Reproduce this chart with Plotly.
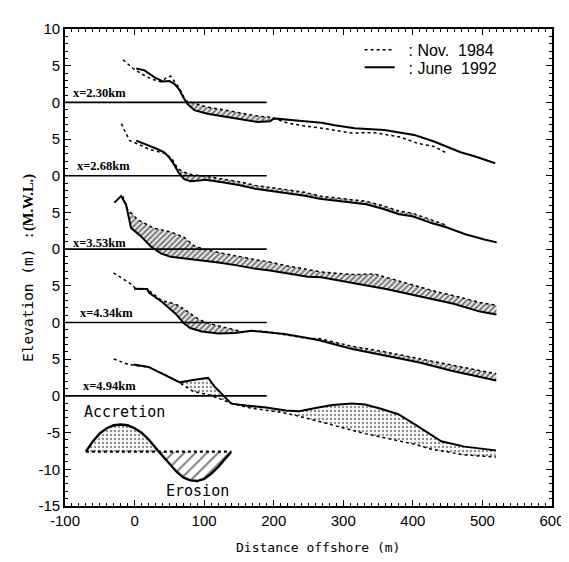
import plotly.graph_objects as go

# ---------------- data (distance offshore m, elevation m relative to M.W.L.) -------------
labels = ["x=2.30km", "x=2.68km", "x=3.53km", "x=4.34km", "x=4.94km"]
offsets = [40, 30, 20, 10, 0]

# x = 2.30 km
p1_x84 = [-16.5, -2.3, 9.1, 23.4, 37.7, 44.8, 51.9, 57.7, 64.8, 73.3, 104.7, 128.5, 152.2, 176.0, 195.0,
          218.8, 240.2, 268.8, 311.6, 344.8, 382.9, 406.7, 430.4, 447.1]
p1_e84 = [5.80, 4.64, 3.93, 3.21, 2.80, 3.29, 3.58, 2.84, 1.87, 0.22, -0.64, -1.03, -1.47, -1.85, -2.03,
          -2.78, -3.16, -3.51, -4.17, -4.13, -4.74, -5.58, -6.01, -6.84]
p1_x92 = [2.4, 14.4, 28.7, 40.5, 50.1, 57.2, 64.4, 70.5, 76.2, 85.8, 104.7, 128.5, 152.2, 176.0, 195.0,
          199.9, 240.2, 268.8, 287.7, 316.3, 359.1, 401.9, 430.4, 468.5, 487.5, 518.4]
p1_e92 = [4.63, 4.37, 3.42, 2.85, 2.90, 2.53, 1.73, 0.59, -0.24, -1.05, -1.54, -1.94, -2.28, -2.66, -2.58,
          -2.18, -2.53, -2.79, -3.12, -3.52, -3.77, -4.43, -5.33, -6.79, -7.31, -8.30]

# x = 2.68 km
p2_x84 = [-19.0, -11.9, -7.2, 7.1, 21.3, 38.0, 45.2, 54.7, 61.9, 69.0, 83.3, 102.2, 126.0, 149.7, 173.5,
          197.4, 221.1, 244.9, 266.3, 294.8, 332.9, 356.6, 380.4, 399.4, 427.9, 447.0]
p2_e84 = [7.10, 5.72, 4.81, 4.23, 3.60, 3.20, 3.02, 2.15, 1.01, 0.54, 0.14, -0.08, -0.42, -0.80, -1.31,
          -1.60, -1.88, -2.26, -2.77, -3.04, -3.48, -4.08, -4.82, -5.10, -6.07, -6.69]
p2_x92 = [2.4, 16.6, 30.9, 42.7, 49.9, 57.0, 64.1, 71.3, 80.8, 92.7, 102.2, 126.0, 149.7, 173.5, 197.4,
          221.1, 244.9, 266.3, 294.8, 332.9, 356.6, 380.4, 399.4, 427.9, 447.0, 475.5, 504.1, 520.6]
p2_e92 = [4.79, 4.29, 3.71, 3.19, 2.49, 1.47, 0.32, -0.47, -0.76, -0.66, -0.55, -0.88, -1.25, -1.76, -2.05,
          -2.34, -2.71, -3.13, -3.42, -3.89, -4.49, -5.23, -5.51, -6.48, -6.99, -7.96, -8.71, -9.08]

# x = 3.53 km
p3_x84 = [-17.1, -10.0, 4.3, 28.1, 51.9, 70.9, 85.2, 99.4, 123.2, 146.9, 170.7, 194.6, 218.3, 268.2,
          315.8, 344.4, 363.3, 401.4, 434.7, 467.9, 496.4, 520.2]
p3_e84 = [7.23, 5.41, 4.03, 2.84, 2.35, 1.63, 0.48, 0.00, -0.50, -0.99, -1.39, -1.76, -2.26, -3.10,
          -3.47, -3.38, -3.88, -4.84, -5.82, -6.55, -7.28, -7.64]
p3_x92 = [-29.0, -19.4, -12.3, -7.6, -5.1, 9.1, 23.4, 37.7, 51.9, 75.6, 99.4, 123.2, 146.9, 170.7, 194.6,
          218.3, 249.2, 268.2, 315.8, 363.3, 410.8, 458.5, 496.4, 520.2]
p3_e92 = [6.34, 7.23, 6.10, 4.05, 2.90, 1.75, 0.36, -0.57, -1.05, -1.32, -1.57, -1.86, -2.21, -2.62, -2.90,
          -3.25, -3.76, -3.84, -4.69, -5.46, -6.45, -7.45, -8.51, -8.91]

# x = 4.34 km
p4_x84 = [-30.3, -17.5, -3.2, 1.5, 18.2, 39.6, 49.1, 63.4, 77.7, 91.9, 106.2, 125.2, 144.1, 158.4, 167.9,
          191.8, 215.5, 246.4, 265.4, 313.0, 360.5, 408.0, 455.7, 484.2, 519.9]
p4_e84 = [6.76, 5.98, 5.14, 4.59, 4.56, 2.94, 2.79, 2.31, 1.38, 0.45, -0.12, -0.59, -1.08, -1.33, -1.11,
          -1.25, -1.65, -2.15, -2.19, -3.25, -4.01, -4.90, -5.88, -6.38, -6.99]
p4_x92 = [-0.8, 18.2, 20.6, 39.6, 58.5, 70.5, 79.9, 96.6, 120.4, 144.1, 167.9, 191.8, 215.5, 246.4, 265.4,
          313.0, 360.5, 408.0, 455.7, 484.2, 519.9]
p4_e92 = [4.59, 4.56, 4.09, 2.80, 1.24, -0.06, -0.75, -1.23, -1.50, -1.41, -1.11, -1.38, -1.56, -2.06, -2.42,
          -3.62, -4.47, -5.41, -6.56, -7.16, -7.90]

# x = 4.94 km
p5_x84 = [-29.9, -10.7, 3.5, 20.1, 32.1, 46.3, 65.3, 84.3, 108.1, 141.3, 165.1, 189.0, 212.7, 236.5,
          260.3, 284.0, 307.8, 331.6, 355.3, 379.1, 402.9, 426.6, 450.4, 474.3, 519.3]
p5_e84 = [5.04, 4.34, 4.10, 3.95, 3.39, 2.77, 1.76, 0.61, 0.11, -1.06, -1.63, -1.93, -2.27, -2.77,
          -3.38, -3.95, -4.53, -5.14, -5.63, -6.11, -6.59, -7.26, -7.70, -8.04, -8.33]
p5_x92 = [-1.3, 20.1, 32.1, 46.3, 65.3, 84.3, 105.7, 115.2, 127.1, 139.0, 160.4, 189.0, 217.5, 236.5,
          260.3, 284.0, 312.5, 331.6, 355.3, 379.1, 402.9, 426.6, 440.9, 474.3, 519.3]
p5_e92 = [4.29, 3.95, 3.39, 2.77, 1.85, 2.18, 2.48, 1.25, 0.09, -1.05, -1.31, -1.57, -1.97, -2.09,
          -1.65, -1.24, -1.04, -1.16, -1.78, -2.49, -3.87, -5.26, -6.19, -6.91, -7.42]

# reference (M.W.L.) line of each profile
ref_x = [-100, 190]
ref_e = [0, 0]

# extent of the shaded change areas
change_ranges = [(64, 196), (44, 448), (-20, 521), (39, 521), (60, 521)]
change_kind = ["erosion", "erosion", "erosion", "erosion", "accretion"]

# schematic key (Accretion / Erosion)
key_x = [-70, -60, -50, -40, -30, -20, -10, 0, 10, 20, 35, 50, 60, 70, 80, 90, 100, 110, 120, 130, 139]
key_y = [-7.6, -6.2, -5.1, -4.4, -4.0, -3.9, -4.0, -4.4, -5.0, -5.9, -7.6, -9.3, -10.3, -11.1, -11.5,
         -11.6, -11.3, -10.6, -9.7, -8.6, -7.6]
key_base = -7.6
key_split = 35

profiles = [
    (p1_x84, p1_e84, p1_x92, p1_e92),
    (p2_x84, p2_e84, p2_x92, p2_e92),
    (p3_x84, p3_e84, p3_x92, p3_e92),
    (p4_x84, p4_e84, p4_x92, p4_e92),
    (p5_x84, p5_e84, p5_x92, p5_e92),
]

HATCH = dict(shape="/", fgcolor="black", bgcolor="white", size=4, solidity=0.6)
DOTS = dict(shape=".", fgcolor="#222222", bgcolor="white", size=4, solidity=0.3)


def band(xa, ya, xb, yb, lo, hi, off):
    ax = [x for x in xa if lo <= x <= hi]
    ay = [y + off for x, y in zip(xa, ya) if lo <= x <= hi]
    bx = [x for x in xb if lo <= x <= hi]
    by = [y + off for x, y in zip(xb, yb) if lo <= x <= hi]
    px = ax + bx[::-1] + ax[:1]
    py = ay + by[::-1] + ay[:1]
    return px, py


fig = go.Figure()

# shaded change areas
for (x84, e84, x92, e92), off, (lo, hi), kind in zip(profiles, offsets, change_ranges, change_kind):
    bx, by = band(x84, e84, x92, e92, lo, hi, off)
    fig.add_trace(go.Scatter(x=bx, y=by, mode="lines", fill="toself", fillcolor="white",
                             fillpattern=HATCH if kind == "erosion" else DOTS,
                             line=dict(width=0), showlegend=False, hoverinfo="skip"))

# key shading
acc_x = [x for x in key_x if x <= key_split]
acc_y = [y for x, y in zip(key_x, key_y) if x <= key_split]
ero_x = [x for x in key_x if x >= key_split]
ero_y = [y for x, y in zip(key_x, key_y) if x >= key_split]
fig.add_trace(go.Scatter(x=acc_x + acc_x[:1], y=acc_y + [key_base], mode="lines", fill="toself",
                         fillcolor="white", fillpattern=DOTS, line=dict(width=0),
                         showlegend=False, hoverinfo="skip"))
fig.add_trace(go.Scatter(x=ero_x + ero_x[-1:], y=ero_y + [key_base], mode="lines", fill="toself",
                         fillcolor="white", fillpattern=dict(shape="/", fgcolor="black", bgcolor="white",
                                                             size=8, solidity=0.25),
                         line=dict(width=0), showlegend=False, hoverinfo="skip"))
fig.add_trace(go.Scatter(x=[key_x[0], key_x[-1]], y=[key_base, key_base], mode="lines",
                         line=dict(color="black", width=2.2, dash="dot"),
                         showlegend=False, hoverinfo="skip"))
fig.add_trace(go.Scatter(x=key_x, y=key_y, mode="lines", line=dict(color="black", width=2.4),
                         showlegend=False, hoverinfo="skip"))

# reference lines
for off in offsets:
    fig.add_trace(go.Scatter(x=ref_x, y=[e + off for e in ref_e], mode="lines",
                             line=dict(color="black", width=1.6), showlegend=False, hoverinfo="skip"))

# profiles
for i, ((x84, e84, x92, e92), off) in enumerate(zip(profiles, offsets)):
    fig.add_trace(go.Scatter(x=x84, y=[e + off for e in e84], mode="lines",
                             line=dict(color="black", width=1.5, dash="dot"),
                             name="\u00a0\u00a0: Nov.  1984", legend="legend",
                             legendgroup="1984", showlegend=(i == 0)))
for i, ((x84, e84, x92, e92), off) in enumerate(zip(profiles, offsets)):
    fig.add_trace(go.Scatter(x=x92, y=[e + off for e in e92], mode="lines",
                             line=dict(color="black", width=2),
                             name="\u00a0\u00a0: June  1992", legend="legend2",
                             legendgroup="1992", showlegend=(i == 0)))

# profile labels
label_x = [-92, -86, -92, -82, -77]
label_dy = [1.3, 1.4, 0.8, 1.3, 1.4]
for lab, off, lx, dy in zip(labels, offsets, label_x, label_dy):
    fig.add_annotation(x=lx, y=off + dy, text="<b>" + lab + "</b>", showarrow=False,
                       xanchor="left", yanchor="middle",
                       font=dict(family="Liberation Serif", size=12.5, color="black"))

fig.add_annotation(x=-76, y=-2.2, text="Accretion", showarrow=False, xanchor="left", yanchor="middle",
                   font=dict(family="DejaVu Sans Mono", size=15, color="black"))
fig.add_annotation(x=43, y=-13.0, text="Erosion", showarrow=False, xanchor="left", yanchor="middle",
                   font=dict(family="DejaVu Sans Mono", size=15, color="black"))

# axis titles
fig.add_annotation(xref="paper", yref="paper", x=-0.075, y=0.5, textangle=-90, showarrow=False,
                   xanchor="center", yanchor="middle",
                   text='Elevation (m) :<span style="font-family:Liberation Serif;font-weight:bold">(M.W.L.)</span>',
                   font=dict(family="DejaVu Sans Mono", size=14.5, color="black"))
fig.add_annotation(xref="paper", yref="paper", x=0.52, y=-0.088, showarrow=False,
                   xanchor="center", yanchor="middle",
                   text="Distance offshore (m)",
                   font=dict(family="DejaVu Sans Mono", size=13, color="black"))

ytick_vals = [-15, -10, -5, 0, 5, 10, 15, 20, 25, 30, 35, 40, 45, 50]
ytick_text = ["-15", "-10", "-5", "0", "5", "0", "5", "0", "5", "0", "5", "0", "5", "10"]
xtick_vals = [-100, 0, 100, 200, 300, 400, 500, 600]
xtick_text = ["-100", "0", "100", "200", "300", "400", "500", "600"]

axis_common = dict(showline=True, linecolor="black", linewidth=1.6, mirror="ticks",
                   ticks="inside", ticklen=6, tickwidth=1.3, tickcolor="black",
                   showgrid=False, zeroline=False,
                   tickfont=dict(family="Liberation Sans", size=15, color="black"))

fig.update_xaxes(range=[-100, 600], tickmode="array", tickvals=xtick_vals, ticktext=xtick_text,
                 minor=dict(ticks="inside", dtick=10, tick0=0, ticklen=3, tickcolor="black"),
                 **axis_common)
fig.update_yaxes(range=[-15, 50], tickmode="array", tickvals=ytick_vals, ticktext=ytick_text,
                 minor=dict(ticks="inside", dtick=1, tick0=0, ticklen=3, tickcolor="black"),
                 **axis_common)

legend_common = dict(xanchor="left", yanchor="top", bgcolor="rgba(0,0,0,0)",
                     font=dict(family="Liberation Sans", size=16, color="black"))
fig.update_layout(
    width=569, height=562,
    margin=dict(l=57, r=21, t=20, b=64),
    plot_bgcolor="white", paper_bgcolor="white",
    legend=dict(x=0.605, y=0.992, **legend_common),
    legend2=dict(x=0.605, y=0.955, **legend_common),
)

fig.write_html("out.html")
